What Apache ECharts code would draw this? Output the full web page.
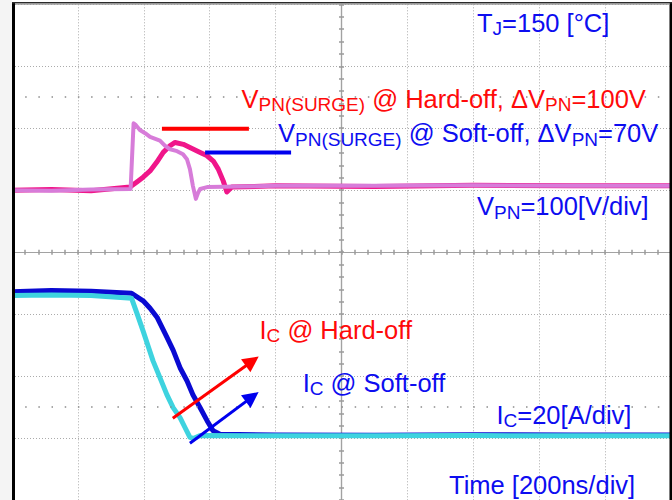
<!DOCTYPE html>
<html>
<head>
<meta charset="utf-8">
<script src="https://cdn.jsdelivr.net/npm/echarts@6/dist/echarts.min.js"></script>
<style>
  html, body { margin: 0; padding: 0; background: #fff; }
  #chart { width: 672px; height: 500px; }
</style>
</head>
<body>
<div id="chart"></div>
<script>
// Turn-off waveforms, 200 ns/div time base
// V_PN (100 V/div) : hard-off vs soft-off surge
const vHardT = [0, 120, 240, 360, 369, 376, 388, 404, 419, 449, 464, 480, 501, 519, 531, 540, 549, 558, 565, 571, 592, 800, 1100, 1400, 1700, 2000];
const vHardV = [300, 299, 301, 302, 408, 405, 397, 392, 386, 380, 372, 366, 363, 358, 350, 334, 307, 286, 296, 302, 305, 307, 307, 308, 307, 307];

const vSoftT = [0, 120, 240, 358, 378, 398, 419, 439, 459, 480, 495, 520, 540, 571, 591, 611, 626, 641, 652, 667, 800, 1100, 1400, 1700, 2000];
const vSoftV = [300, 301, 299, 305, 313, 321, 331, 345, 361, 372, 377, 374, 369, 361, 356, 347, 334, 315, 297, 305, 307, 306, 308, 307, 307];

// I_C (20 A/div)
const iHardT = [0, 120, 240, 363, 379, 398, 413, 428, 449, 470, 489, 510, 525, 540, 552, 571, 800, 1100, 1400, 1700, 2000];
const iHardA = [46.0, 46.2, 46.0, 45.1, 40.3, 34.5, 29.7, 24.9, 19.5, 14.0, 9.8, 6.6, 3.4, 0.2, -0.1, 0.8, 0.7, 0.7, 0.8, 0.7, 0.7];

const iSoftT = [0, 120, 240, 363, 398, 419, 440, 470, 489, 510, 531, 549, 571, 592, 610, 631, 800, 1100, 1400, 1700, 2000];
const iSoftA = [47.2, 47.6, 47.4, 46.7, 44.3, 41.9, 39.0, 32.6, 28.4, 22.7, 18.5, 14.0, 9.8, 5.6, 2.4, 1.2, 1.0, 0.9, 1.1, 1.0, 1.0];

// surge level markers [tStart, tEnd, volts]
const hardSurgeBar = [455, 719, 399];
const softSurgeBar = [586, 847, 361];

// arrows [t0, i0, t1, i1]
const hardArrow = [488, 6.4, 729, 24.8];
const softArrow = [540, -1.7, 729, 13.3];

// scope screen divisions
const divX = [-5, 5];
const divY = [-4, 4];
const cursorDiv = [2.5, -2.5];

const FONT = 'Liberation Sans';
const RED = '#ff0a0a';
const BLUE = '#0d0df0';

function zip(t, v) { return t.map((x, i) => [x, v[i]]); }

// main text + lowered subscript
function rich(color) {
  return {
    m: { fontSize: 25.5, fontFamily: FONT, fill: color, verticalAlign: 'top' },
    s: { fontSize: 19, fontFamily: FONT, fill: color, verticalAlign: 'top', padding: [9.5, 0, 0, 0] }
  };
}
function label(x, y, text, color) {
  return {
    type: 'text', x: x, y: y, z: 120,
    style: { text: text, rich: rich(color), fill: color, align: 'left', verticalAlign: 'top',
             fontFamily: FONT, fontSize: 25.5 }
  };
}

const gridDot = { type: [1, 2], color: '#ababab', width: 1 };
const crossLine = { color: '#a2a2a2', width: 1.2 };
const tickStyle = { color: '#9a9a9a', width: 1.5 };

function divAxisX(inside) {
  return {
    type: 'value', min: divX[0], max: divX[1], interval: 1, position: 'bottom',
    axisLine: { show: true, onZero: true, onZeroAxisIndex: 2, lineStyle: crossLine },
    axisTick: { show: true, inside: inside, length: 2.5, lineStyle: tickStyle },
    minorTick: { show: true, splitNumber: 5, length: 2.5, lineStyle: tickStyle },
    axisLabel: { show: false }, splitLine: { show: false }
  };
}
function divAxisY(inside) {
  return {
    type: 'value', min: divY[0], max: divY[1], interval: 1, position: 'left',
    axisLine: { show: true, onZero: true, onZeroAxisIndex: 1, lineStyle: crossLine },
    axisTick: { show: true, inside: inside, length: 2.5, lineStyle: tickStyle },
    minorTick: { show: true, splitNumber: 5, length: 2.5, lineStyle: tickStyle },
    axisLabel: { show: false }, splitLine: { show: false }
  };
}

function trace(name, data, color, width, yIdx) {
  return {
    name: name, type: 'line', xAxisIndex: 0, yAxisIndex: yIdx, data: data,
    showSymbol: false, symbol: 'none', sampling: null, silent: true,
    lineStyle: { color: color, width: width, join: 'round' }, z: 3
  };
}
function bar(b, color) {
  return {
    type: 'line', xAxisIndex: 0, yAxisIndex: 0, symbol: 'none', silent: true,
    data: [[b[0], b[2]], [b[1], b[2]]],
    lineStyle: { color: color, width: 4, cap: 'butt' }, z: 6
  };
}
function arrow(a, color) {
  return {
    type: 'line', xAxisIndex: 0, yAxisIndex: 1, data: [], silent: true, z: 6,
    markLine: {
      silent: true, animation: false, symbol: ['none', 'triangle'], symbolSize: 16,
      label: { show: false },
      lineStyle: { color: color, width: 3, type: 'solid' },
      data: [[{ coord: [a[0], a[1]] }, { coord: [a[2], a[3]] }]]
    }
  };
}

const chart = echarts.init(document.getElementById('chart'), null, { renderer: 'svg' });

chart.setOption({
  animation: false,
  backgroundColor: '#ffffff',
  grid: { left: 12, top: 4.3, width: 659, height: 498.7, containLabel: false },
  xAxis: [
    { type: 'value', min: 0, max: 2000, interval: 200,
      axisLine: { show: false }, axisTick: { show: false }, axisLabel: { show: false },
      splitLine: { show: true, lineStyle: gridDot } },
    divAxisX(true),
    divAxisX(false)
  ],
  yAxis: [
    { type: 'value', min: -200, max: 600, interval: 100,
      axisLine: { show: false }, axisTick: { show: false }, axisLabel: { show: false },
      splitLine: { show: true, lineStyle: gridDot } },
    { type: 'value', min: -20, max: 140, interval: 20, show: false },
    divAxisY(true),
    divAxisY(false)
  ],
  series: [
    // 0%/100% cursor rows
    { type: 'line', xAxisIndex: 1, yAxisIndex: 2, data: [], silent: true, z: 1,
      markLine: { silent: true, symbol: ['none', 'none'], label: { show: false },
        lineStyle: { color: '#8c8c8c', width: 1.5, type: [1.5, 11.68] },
        data: cursorDiv.map(v => ({ yAxis: v })) } },
    trace('VPN soft-off', zip(vSoftT, vSoftV), '#f0168a', 5, 0),
    trace('VPN hard-off', zip(vHardT, vHardV), '#d77cd9', 4, 0),
    trace('IC soft-off', zip(iSoftT, iSoftA), '#0a0ad2', 5, 1),
    trace('IC hard-off', zip(iHardT, iHardA), '#3ed3df', 5, 1),
    bar(hardSurgeBar, '#ff0000'),
    bar(softSurgeBar, '#0000ee'),
    arrow(hardArrow, '#ff0000'),
    arrow(softArrow, '#0000ee')
  ],
  graphic: { elements: [
    { type: 'rect', z: 110, shape: { x: 0, y: 0, width: 12, height: 500 }, style: { fill: '#f4f4f4' } },
    { type: 'rect', z: 111, shape: { x: 12, y: 2, width: 3, height: 498 }, style: { fill: '#000' } },
    { type: 'rect', z: 111, shape: { x: 669.5, y: 2, width: 2.5, height: 498 }, style: { fill: '#000' } },
    { type: 'rect', z: 111, shape: { x: 12, y: 2, width: 660, height: 1.6 }, style: { fill: '#2a2a2a' } },
    { type: 'rect', z: 111, shape: { x: 15, y: 3.6, width: 655, height: 1.2 }, style: { fill: '#9c9c9c' } },
    label(477, 9.9, '{m|T}{s|J}{m|=150 [°C]}', BLUE),
    label(241.5, 85.7, '{m|V}{s|PN(SURGE)}{m| @ Hard-off, ΔV}{s|PN}{m|=100V}', RED),
    label(278, 120.2, '{m|V}{s|PN(SURGE)}{m| @ Soft-off, ΔV}{s|PN}{m|=70V}', BLUE),
    label(477, 193.4, '{m|V}{s|PN}{m|=100[V/div]}', BLUE),
    label(259.5, 316.7, '{m|I}{s|C}{m| @ Hard-off}', RED),
    label(302.7, 369.9, '{m|I}{s|C}{m| @ Soft-off}', BLUE),
    label(496.5, 401.7, '{m|I}{s|C}{m|=20[A/div]}', BLUE),
    label(449, 471.7, '{m|Time [200ns/div]}', BLUE)
  ] }
});
</script>
</body>
</html>
